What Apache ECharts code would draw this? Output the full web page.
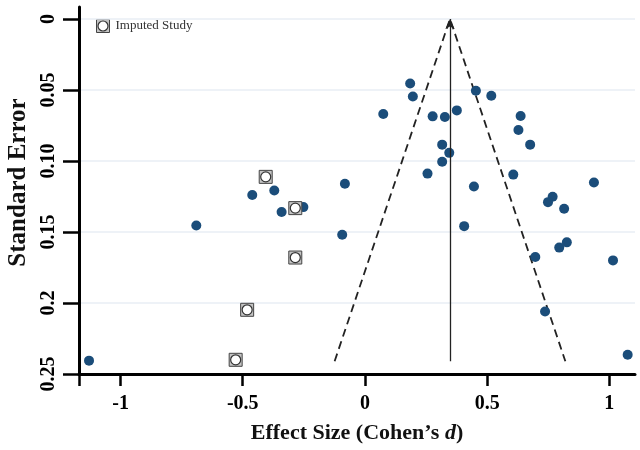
<!DOCTYPE html>
<html><head><meta charset="utf-8">
<script src="https://cdn.jsdelivr.net/npm/echarts@6/dist/echarts.min.js"></script>
<style>html,body{margin:0;padding:0;background:#fff}#c{width:640px;height:450px}</style>
</head><body><div id="c"></div>
<script>
// Observed studies: effect size (Cohen's d) and standard error
const studyEffect = [0.185,0.196,0.454,0.517,0.075,0.277,0.327,0.376,0.316,0.345,0.316,0.256,0.446,0.607,0.637,0.628,0.676,0.937,-0.082,-0.093,0.406,0.768,0.749,0.815,0.826,0.795,0.697,1.015,0.737,1.075,-0.690,-0.341,-0.252,-1.129,-0.461,-0.371];
const studySE     = [0.0454,0.0546,0.0506,0.0541,0.0669,0.0686,0.069,0.0644,0.0885,0.0943,0.1006,0.1089,0.118,0.1096,0.0683,0.0782,0.0885,0.1152,0.116,0.152,0.1459,0.1252,0.129,0.1337,0.1573,0.161,0.1676,0.170,0.206,0.2364,0.1454,0.136,0.1325,0.2406,0.124,0.1208];
// Imputed studies (trim and fill)
const imputedEffect = [-0.406,-0.285,-0.285,-0.482,-0.529];
const imputedSE     = [0.1112,0.1332,0.168,0.2048,0.240];
// Funnel (pseudo 95% CI) and pooled estimate
const funnelEffect = [-0.124, 0.348, 0.820];
const funnelSE     = [0.241, 0, 0.241];
const pooledEffect = 0.348;
const pooledSE     = [0.241, 0];
// Axes
const xMin = -1.17, xMax = 1.105;
const yMin = -0.0084, yMax = 0.25;
const xTicks = [-1, -0.5, 0, 0.5, 1];
const xTickLabels = ['-1', '-0.5', '0', '0.5', '1'];
const yTicks = [0, 0.05, 0.10, 0.15, 0.2, 0.25];
const yTickLabels = ['0', '0.05', '0.10', '0.15', '0.2', '0.25'];

const serif = '"Liberation Serif", "Times New Roman", serif';
const zip = (a, b) => a.map((v, i) => [v, b[i]]);

const chart = echarts.init(document.getElementById('c'), null, {renderer: 'canvas'});
chart.setOption({
  animation: false,
  backgroundColor: '#fff',
  grid: {left: 79, right: 5, top: 7, bottom: 76, containLabel: false, outerBoundsMode: 'none'},
  xAxis: {
    type: 'value', min: xMin, max: xMax,
    name: 'Effect Size (Cohen\u2019s {i|d})', nameLocation: 'middle', nameGap: 48,
    nameTextStyle: {fontFamily: serif, fontSize: 22, fontWeight: 'bold', color: '#111',
      rich: {i: {fontFamily: serif, fontSize: 22, fontWeight: 'bold', fontStyle: 'italic', color: '#111'}}},
    axisLine: {show: true, onZero: false, lineStyle: {color: '#000', width: 3}},
    axisTick: {show: true, length: 12, customValues: [xMin].concat(xTicks), lineStyle: {color: '#000', width: 2.5}},
    axisLabel: {customValues: xTicks, margin: 20, fontFamily: serif, fontSize: 20, fontWeight: 'bold', color: '#000',
      formatter: v => { const i = xTicks.findIndex(t => Math.abs(t - v) < 1e-9); return i >= 0 ? xTickLabels[i] : ''; }},
    splitLine: {show: false}
  },
  yAxis: {
    type: 'value', min: yMin, max: yMax, inverse: true,
    name: 'Standard Error', nameLocation: 'middle', nameGap: 43,
    nameTextStyle: {fontFamily: serif, fontSize: 25, fontWeight: 'bold', color: '#111', padding: [0, 0, 0, 16]},
    axisLine: {show: true, onZero: false, lineStyle: {color: '#000', width: 3}},
    axisTick: {show: true, length: 16, customValues: yTicks, lineStyle: {color: '#000', width: 2.5}},
    axisLabel: {customValues: yTicks, rotate: 90, margin: 20, fontFamily: serif, fontSize: 20, fontWeight: 'bold', color: '#000',
      formatter: v => { const i = yTicks.findIndex(t => Math.abs(t - v) < 1e-9); return i >= 0 ? yTickLabels[i] : ''; }},
    splitLine: {show: true, lineStyle: {color: '#e8eef5', width: 1.5}}
  },
  graphic: [{
    type: 'group', left: 96, top: 19, children: [
      {type: 'rect', shape: {x: 0, y: 0, width: 13, height: 13}, style: {fill: '#c4c4c4', stroke: '#444', lineWidth: 1}},
      {type: 'circle', shape: {cx: 6.5, cy: 6.5, r: 5}, style: {fill: '#fff', stroke: '#333', lineWidth: 1.2}},
      {type: 'text', x: 19, y: 6.5, style: {text: 'Imputed Study', font: '13px ' + serif, fill: '#333', verticalAlign: 'middle'}}
    ]
  }],
  series: [
    {
      type: 'line', name: 'funnel', data: zip(funnelEffect, funnelSE), symbol: 'none', z: 3,
      lineStyle: {color: '#222', width: 1.8, type: [8, 5]},
      markLine: {
        silent: true, animation: false,
        label: {show: false},
        data: [
          [{coord: [pooledEffect, pooledSE[0]], symbol: 'none'},
           {coord: [pooledEffect, pooledSE[1]], symbol: 'arrow', symbolSize: [7, 10]}],
          {yAxis: yMin, symbol: 'none', lineStyle: {color: '#e8eef5', width: 1.5, type: 'solid'}}
        ],
        lineStyle: {color: '#222', width: 1.3, type: 'solid'}
      }
    },
    {
      type: 'scatter', name: 'Study', data: zip(studyEffect, studySE), symbol: 'circle', symbolSize: 10, z: 4,
      itemStyle: {color: '#1b4d7a', opacity: 1}
    },
    {
      type: 'scatter', name: 'Imputed Study', data: zip(imputedEffect, imputedSE), symbol: 'rect', symbolSize: 13, z: 5,
      itemStyle: {color: '#c4c4c4', borderColor: '#444', borderWidth: 1, opacity: 1}
    },
    {
      type: 'scatter', name: 'Imputed Study inner', data: zip(imputedEffect, imputedSE), symbol: 'circle', symbolSize: 10, z: 6,
      itemStyle: {color: '#fff', borderColor: '#333', borderWidth: 1.2, opacity: 1}
    }
  ]
});
</script>
</body></html>
